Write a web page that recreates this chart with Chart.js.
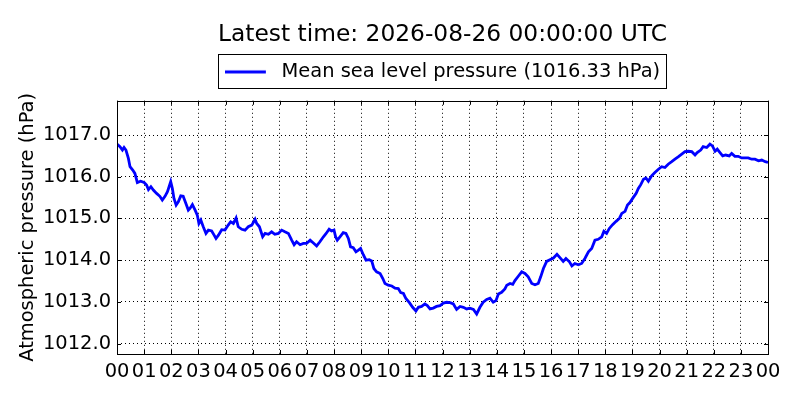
<!DOCTYPE html>
<html>
<head>
<meta charset="utf-8">
<script src="https://cdn.jsdelivr.net/npm/chart.js@4.4.1/dist/chart.umd.min.js"></script>
<style>
html,body{margin:0;padding:0;background:#fff;}
#wrap{width:800px;height:400px;}
</style>
</head>
<body>
<div id="wrap"><canvas id="c" width="800" height="400"></canvas></div>
<script>
const titleText = "Latest time: 2026-08-26 00:00:00 UTC";
const seriesLabel = "Mean sea level pressure (1016.33 hPa)";
const yAxisTitle = "Atmospheric pressure (hPa)";
const xTickHours = [0,1,2,3,4,5,6,7,8,9,10,11,12,13,14,15,16,17,18,19,20,21,22,23,24];
const yTickValues = [1012,1013,1014,1015,1016,1017];

const hours = [
0.00,0.11,0.20,0.26,0.33,0.42,0.48,0.58,0.66,0.75,0.87,1.00,1.09,1.16,1.25,1.34,1.46,1.58,1.67,1.77,
1.86,1.92,1.98,2.04,2.10,2.18,2.26,2.35,2.44,2.54,2.63,2.69,2.78,2.88,2.96,3.02,3.09,3.18,3.28,3.37,
3.49,3.58,3.65,3.74,3.86,3.98,4.10,4.19,4.29,4.39,4.47,4.60,4.72,4.84,4.97,5.09,5.15,5.25,5.37,5.46,
5.58,5.70,5.82,5.95,6.07,6.19,6.32,6.44,6.53,6.62,6.75,6.87,6.99,7.12,7.24,7.36,7.48,7.61,7.71,7.82,
7.91,8.00,8.06,8.12,8.22,8.34,8.44,8.53,8.61,8.71,8.81,8.90,8.98,9.08,9.18,9.30,9.39,9.47,9.57,9.70,
9.80,9.88,10.00,10.13,10.25,10.37,10.46,10.56,10.65,10.78,10.90,11.02,11.11,11.23,11.35,11.44,11.54,11.66,11.78,11.91,
12.03,12.15,12.28,12.40,12.52,12.65,12.77,12.89,13.01,13.14,13.26,13.38,13.50,13.63,13.75,13.87,13.97,14.06,14.18,14.30,
14.37,14.49,14.59,14.67,14.80,14.92,15.04,15.16,15.29,15.41,15.53,15.62,15.72,15.84,15.96,16.09,16.22,16.33,16.45,16.55,
16.68,16.77,16.88,17.01,17.13,17.25,17.38,17.50,17.62,17.74,17.87,17.95,18.05,18.15,18.27,18.40,18.52,18.61,18.73,18.82,
18.91,19.01,19.14,19.22,19.31,19.41,19.50,19.59,19.71,19.83,19.96,20.08,20.20,20.32,20.45,20.57,20.70,20.82,20.94,21.06,
21.19,21.31,21.39,21.52,21.61,21.74,21.86,21.95,22.05,22.13,22.23,22.33,22.44,22.57,22.66,22.78,22.90,23.03,23.15,23.27,
23.40,23.52,23.65,23.77,23.90,24.00
];
const pressure = [
1016.78,1016.72,1016.64,1016.70,1016.64,1016.44,1016.24,1016.16,1016.08,1015.86,1015.89,1015.86,1015.80,1015.69,1015.76,1015.68,1015.60,1015.53,1015.44,1015.53,
1015.64,1015.76,1015.88,1015.72,1015.48,1015.32,1015.40,1015.54,1015.53,1015.36,1015.20,1015.24,1015.33,1015.20,1015.08,1014.88,1014.96,1014.80,1014.64,1014.72,
1014.70,1014.60,1014.52,1014.60,1014.73,1014.72,1014.84,1014.92,1014.88,1015.01,1014.80,1014.74,1014.72,1014.80,1014.84,1014.98,1014.88,1014.80,1014.56,1014.64,
1014.62,1014.68,1014.62,1014.64,1014.72,1014.68,1014.64,1014.48,1014.37,1014.44,1014.37,1014.40,1014.40,1014.48,1014.41,1014.34,1014.44,1014.56,1014.64,1014.74,
1014.70,1014.72,1014.56,1014.48,1014.56,1014.66,1014.64,1014.52,1014.32,1014.30,1014.20,1014.24,1014.28,1014.13,1014.00,1014.01,1013.98,1013.80,1013.72,1013.68,
1013.56,1013.44,1013.40,1013.38,1013.33,1013.32,1013.22,1013.20,1013.08,1012.98,1012.87,1012.78,1012.87,1012.89,1012.95,1012.91,1012.83,1012.85,1012.89,1012.91,
1012.97,1012.99,1012.98,1012.95,1012.82,1012.89,1012.87,1012.83,1012.85,1012.82,1012.71,1012.87,1012.99,1013.06,1013.09,1012.99,1013.03,1013.19,1013.23,1013.31,
1013.40,1013.44,1013.42,1013.51,1013.62,1013.72,1013.68,1013.60,1013.44,1013.41,1013.44,1013.60,1013.80,1013.97,1014.01,1014.05,1014.14,1014.06,1013.97,1014.04,
1013.96,1013.86,1013.92,1013.89,1013.92,1014.04,1014.20,1014.28,1014.48,1014.50,1014.56,1014.69,1014.64,1014.76,1014.85,1014.93,1015.00,1015.12,1015.17,1015.32,
1015.38,1015.48,1015.60,1015.72,1015.81,1015.94,1015.97,1015.89,1016.02,1016.10,1016.18,1016.24,1016.22,1016.30,1016.36,1016.42,1016.48,1016.54,1016.60,1016.61,
1016.60,1016.52,1016.58,1016.64,1016.72,1016.70,1016.78,1016.74,1016.61,1016.66,1016.58,1016.50,1016.52,1016.50,1016.56,1016.49,1016.49,1016.45,1016.45,1016.45,
1016.42,1016.42,1016.38,1016.40,1016.36,1016.34
];

const points = hours.map((h, i) => ({x: h, y: pressure[i]}));

// legend sample: line of 41px inside a 47px-wide image
const sample = document.createElement('canvas');
sample.width = 47; sample.height = 6;
(function(){
  const g = sample.getContext('2d');
  g.strokeStyle = '#0000ff'; g.lineWidth = 2.8;
  g.beginPath(); g.moveTo(0, 3); g.lineTo(41, 3); g.stroke();
})();

const FONT = "'DejaVu Sans', sans-serif";
const TICK_SIZE = 19.44;
const TITLE_SIZE = 23.33;

const framePlugin = {
  id: 'frame',
  afterDraw(chart) {
    const ctx = chart.ctx;
    const a = chart.chartArea;
    const xs = chart.scales.x, ys = chart.scales.y;
    ctx.save();
    ctx.strokeStyle = '#000';
    ctx.lineWidth = 1;
    ctx.beginPath();
    xTickHours.forEach(h => {
      const px = Math.round(xs.getPixelForValue(h)) + 0.5;
      ctx.moveTo(px, a.bottom); ctx.lineTo(px, a.bottom - 4);
      ctx.moveTo(px, a.top); ctx.lineTo(px, a.top + 4);
    });
    yTickValues.forEach(v => {
      const py = Math.round(ys.getPixelForValue(v)) + 0.5;
      ctx.moveTo(a.left, py); ctx.lineTo(a.left + 4, py);
      ctx.moveTo(a.right, py); ctx.lineTo(a.right - 4, py);
    });
    ctx.stroke();
    ctx.strokeRect(Math.round(a.left) + 0.5, Math.round(a.top) + 0.5,
                   Math.round(a.right - a.left), Math.round(a.bottom - a.top));
    const lg = chart.legend;
    if (lg && lg.legendHitBoxes && lg.legendHitBoxes.length) {
      const hb = lg.legendHitBoxes[0];
      ctx.strokeRect(Math.round(hb.left - 7) + 0.5, Math.round(hb.top - 8) + 0.5,
                     Math.round(hb.width + 13), Math.round(hb.height + 15));
    }
    ctx.restore();
  }
};

const chart = new Chart(document.getElementById('c'), {
  type: 'line',
  data: {
    datasets: [{
      label: seriesLabel,
      data: points,
      borderColor: '#0000ff',
      backgroundColor: '#0000ff',
      borderWidth: 2.8,
      pointRadius: 0,
      tension: 0,
      fill: false,
      pointStyle: sample
    }]
  },
  options: {
    responsive: false,
    animation: false,
    devicePixelRatio: 1,
    layout: {padding: {left: 0, right: 32, top: 0, bottom: 0}},
    plugins: {
      title: {
        display: true,
        text: titleText,
        color: '#000',
        fullSize: false,
        font: {family: FONT, size: TITLE_SIZE, weight: 'normal'},
        padding: {top: 21, bottom: 5.2}
      },
      legend: {
        display: true,
        fullSize: false,
        position: 'top',
        labels: {
          color: '#000',
          font: {family: FONT, size: TICK_SIZE},
          usePointStyle: true,
          pointStyleWidth: 47,
          boxHeight: TICK_SIZE,
          padding: 8
        }
      },
      tooltip: {enabled: false}
    },
    scales: {
      x: {
        type: 'linear',
        min: 0, max: 24,
        afterFit(s) { s.height = 46; },
        afterBuildTicks(s) { s.ticks = xTickHours.map(v => ({value: v})); },
        ticks: {
          autoSkip: false, maxRotation: 0, minRotation: 0,
          color: '#000', padding: 6,
          font: {family: FONT, size: TICK_SIZE},
          callback: v => String(v % 24).padStart(2, '0')
        },
        grid: {color: '#000', lineWidth: 1, drawTicks: false},
        border: {display: false, dash: [1, 3]}
      },
      y: {
        type: 'linear',
        min: 1011.75, max: 1017.82,
        afterFit(s) { s.width = 117; },
        afterBuildTicks(s) { s.ticks = yTickValues.map(v => ({value: v})); },
        ticks: {
          color: '#000', padding: 6,
          font: {family: FONT, size: TICK_SIZE},
          callback: v => Number(v).toFixed(1)
        },
        grid: {color: '#000', lineWidth: 1, drawTicks: false},
        border: {display: false, dash: [1, 3]},
        title: {
          display: true, text: yAxisTitle, color: '#000',
          font: {family: FONT, size: TICK_SIZE},
          padding: {top: 16, bottom: 0}
        }
      }
    }
  },
  plugins: [framePlugin, {
    id: 'legendFit',
    beforeLayout(chart) {
      const lg = chart.legend;
      if (lg && !lg._patched) {
        const orig = lg.fit.bind(lg);
        lg.fit = function() { orig(); this.height = 101 - 54.4; };
        lg._patched = true;
      }
    }
  }]
});
</script>
</body>
</html>
